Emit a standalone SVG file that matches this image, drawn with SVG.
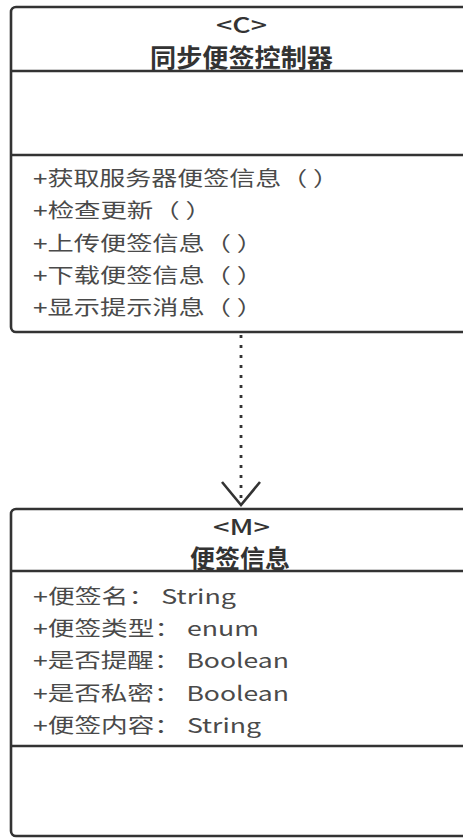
<svg xmlns="http://www.w3.org/2000/svg" width="463" height="838" viewBox="0 0 463 838">
  <style>
    .box { fill: #ffffff; stroke: #333333; stroke-width: 2.6; }
    .div { stroke: #333333; stroke-width: 2.6; fill: none; }
    .stereo { font-family: "Noto Sans CJK SC", "Noto Sans", sans-serif; font-size: 21px; font-weight: 500; fill: #333333; text-anchor: middle; }
    .title { font-family: "Noto Sans CJK SC", sans-serif; font-size: 25px; font-weight: bold; fill: #333333; text-anchor: middle; }
    .member { font-family: "Noto Sans CJK SC", sans-serif; font-size: 20px; fill: #4a4a4a; }
    .dep { stroke: #333333; stroke-width: 2.8; stroke-dasharray: 3 7; fill: none; }
  </style>
  <defs>
    <marker id="openArrow" markerUnits="userSpaceOnUse" markerWidth="60" markerHeight="60" refX="0" refY="0" orient="auto" overflow="visible" viewBox="-30 -30 60 60">
      <path d="M-23,-19 L0,0 L-23,19" fill="none" stroke="#333333" stroke-width="2.6" stroke-dasharray="none"/>
    </marker>
  </defs>
  <rect x="0" y="0" width="463" height="838" fill="#ffffff"/>

  <g id="controller">
    <rect class="box" x="11" y="7" width="470" height="325" rx="5"/>
    <line class="div" x1="11" y1="71" x2="481" y2="71"/>
    <line class="div" x1="11" y1="155" x2="481" y2="155"/>
    <text class="stereo" x="241.5" y="33" textLength="51" lengthAdjust="spacingAndGlyphs">&lt;C&gt;</text>
    <text class="title" x="241.5" y="67" textLength="183" lengthAdjust="spacingAndGlyphs">同步便签控制器</text>
    <text class="member" x="33" y="186" textLength="306" lengthAdjust="spacingAndGlyphs">+获取服务器便签信息（ ）</text>
    <text class="member" x="33" y="218" textLength="179" lengthAdjust="spacingAndGlyphs">+检查更新（ ）</text>
    <text class="member" x="33" y="251" textLength="230" lengthAdjust="spacingAndGlyphs">+上传便签信息（ ）</text>
    <text class="member" x="33" y="283" textLength="230" lengthAdjust="spacingAndGlyphs">+下载便签信息（ ）</text>
    <text class="member" x="33" y="315" textLength="230" lengthAdjust="spacingAndGlyphs">+显示提示消息（ ）</text>
  </g>

  <g id="connectors">
    <line class="dep" x1="241" y1="335" x2="241" y2="505" marker-end="url(#openArrow)"/>
  </g>

  <g id="noteInfo">
    <rect class="box" x="11" y="509" width="470" height="327" rx="5"/>
    <line class="div" x1="11" y1="571" x2="481" y2="571"/>
    <line class="div" x1="11" y1="746" x2="481" y2="746"/>
    <text class="stereo" x="241.5" y="535" textLength="57" lengthAdjust="spacingAndGlyphs">&lt;M&gt;</text>
    <text class="title" x="240" y="568" textLength="100" lengthAdjust="spacingAndGlyphs">便签信息</text>
    <text class="member" x="33" y="604" textLength="203" lengthAdjust="spacingAndGlyphs">+便签名： String</text>
    <text class="member" x="33" y="636" textLength="226" lengthAdjust="spacingAndGlyphs">+便签类型： enum</text>
    <text class="member" x="33" y="668" textLength="256" lengthAdjust="spacingAndGlyphs">+是否提醒： Boolean</text>
    <text class="member" x="33" y="701" textLength="256" lengthAdjust="spacingAndGlyphs">+是否私密： Boolean</text>
    <text class="member" x="33" y="733" textLength="228" lengthAdjust="spacingAndGlyphs">+便签内容： String</text>
  </g>
</svg>
